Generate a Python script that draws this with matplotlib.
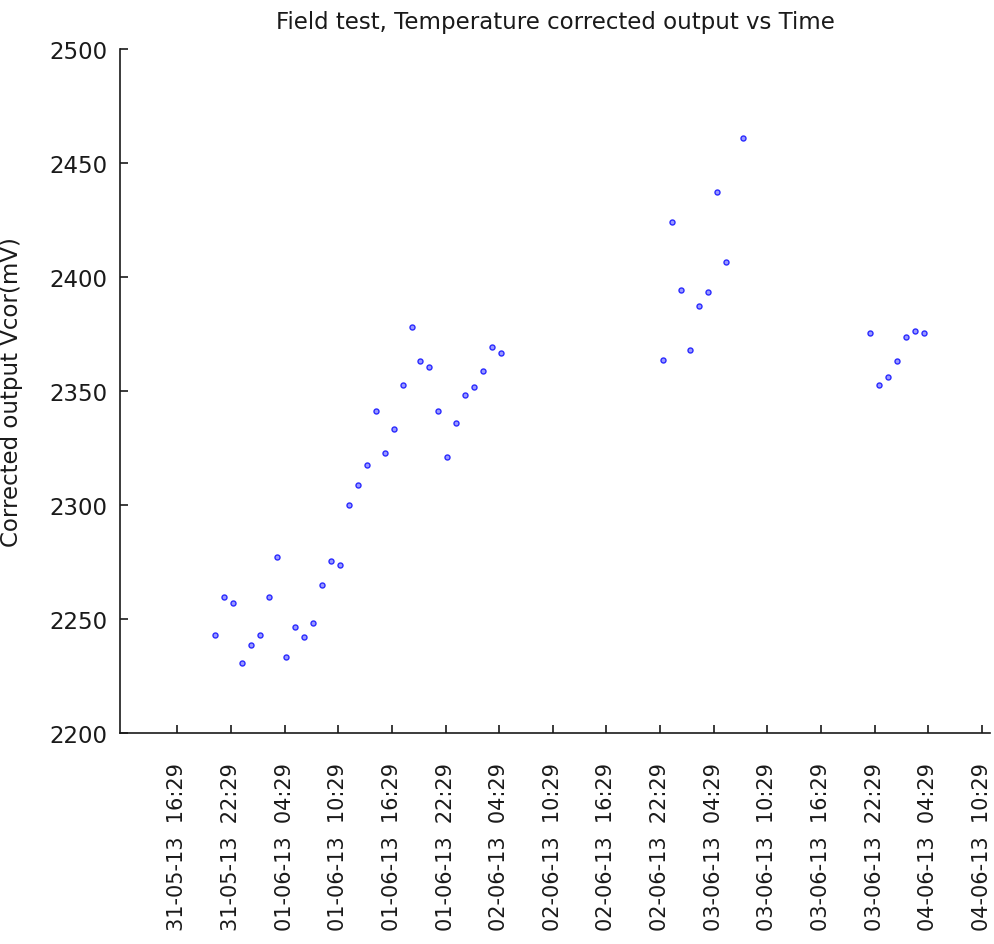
import matplotlib.pyplot as plt
import pandas as pd

# corrected sensor output (mV), three logging sessions
times_1 = ['31-05-13 20:41', '31-05-13 21:41', '31-05-13 22:41', '31-05-13 23:41',
           '01-06-13 00:41', '01-06-13 01:41', '01-06-13 02:41', '01-06-13 03:41',
           '01-06-13 04:41', '01-06-13 05:41', '01-06-13 06:41', '01-06-13 07:41',
           '01-06-13 08:41', '01-06-13 09:41', '01-06-13 10:41', '01-06-13 11:41',
           '01-06-13 12:41', '01-06-13 13:41', '01-06-13 14:41', '01-06-13 15:41',
           '01-06-13 16:41', '01-06-13 17:41', '01-06-13 18:41', '01-06-13 19:41',
           '01-06-13 20:41', '01-06-13 21:41', '01-06-13 22:41', '01-06-13 23:41',
           '02-06-13 00:41', '02-06-13 01:41', '02-06-13 02:41', '02-06-13 03:41',
           '02-06-13 04:41']
vcor_1 = [2242.9, 2259.5, 2256.9, 2230.6, 2238.5, 2242.9, 2259.5, 2277.1,
          2233.2, 2246.4, 2242.0, 2248.1, 2264.8, 2275.3, 2273.6, 2300.0,
          2308.6, 2317.4, 2341.1, 2322.7, 2333.2, 2352.5, 2377.9, 2363.0,
          2360.4, 2341.1, 2320.9, 2335.8, 2348.1, 2351.6, 2358.6, 2369.2,
          2366.5]

times_2 = ['02-06-13 22:48', '02-06-13 23:48', '03-06-13 00:48', '03-06-13 01:48',
           '03-06-13 02:48', '03-06-13 03:48', '03-06-13 04:48', '03-06-13 05:48',
           '03-06-13 07:48']
vcor_2 = [2363.7, 2424.3, 2394.4, 2368.1, 2387.4, 2393.6, 2437.4, 2406.7, 2461.1]

times_3 = ['03-06-13 21:57', '03-06-13 22:57', '03-06-13 23:57', '04-06-13 00:57',
           '04-06-13 01:57', '04-06-13 02:57', '04-06-13 03:57']
vcor_3 = [2375.3, 2352.5, 2356.0, 2363.0, 2373.6, 2376.2, 2375.3]

tick_labels = ['31-05-13  16:29', '31-05-13  22:29', '01-06-13  04:29', '01-06-13  10:29',
               '01-06-13  16:29', '01-06-13  22:29', '02-06-13  04:29', '02-06-13  10:29',
               '02-06-13  16:29', '02-06-13  22:29', '03-06-13  04:29', '03-06-13  10:29',
               '03-06-13  16:29', '03-06-13  22:29', '04-06-13  04:29', '04-06-13  10:29']
y_ticks = [2200, 2250, 2300, 2350, 2400, 2450, 2500]

t = pd.to_datetime(times_1 + times_2 + times_3, format='%d-%m-%y %H:%M')
v = vcor_1 + vcor_2 + vcor_3
tick_pos = pd.to_datetime(tick_labels, format='%d-%m-%y  %H:%M')

fig = plt.figure(figsize=(9.95, 9.45), dpi=100)
ax = fig.add_axes([0.1206, 0.2233, 0.8744, 0.7238])

ax.plot(t, v, 'o', markersize=3.6, markerfacecolor='#9a9aff',
        markeredgecolor='#2a2aff', markeredgewidth=1.0, linestyle='none')

ax.set_xlim(tick_pos[0] - pd.Timedelta(hours=6.41), tick_pos[0] + pd.Timedelta(hours=90.9))
ax.set_ylim(2200, 2500)
ax.set_yticks(y_ticks)
ax.set_xticks(tick_pos)
ax.set_xticklabels(tick_labels, rotation=90, va='top', ha='center')

for s in ['top', 'right']:
    ax.spines[s].set_visible(False)
for s in ['left', 'bottom']:
    ax.spines[s].set_linewidth(1.2)
    ax.spines[s].set_color('#1a1a1a')

ax.tick_params(axis='y', direction='in', length=6, width=1.2, pad=9,
               labelsize=16.5, colors='#1a1a1a')
ax.tick_params(axis='x', direction='in', length=6, width=1.2, pad=21,
               labelsize=15, colors='#1a1a1a')

ax.set_title('Field test, Temperature corrected output vs Time', fontsize=16.5, pad=15,
             color='#1a1a1a')
ax.set_ylabel('Corrected output Vcor(mV)', fontsize=16.5, color='#1a1a1a')
ax.yaxis.set_label_coords(-0.111, 0.5)

plt.savefig('out.png', dpi=100)
plt.close(fig)
